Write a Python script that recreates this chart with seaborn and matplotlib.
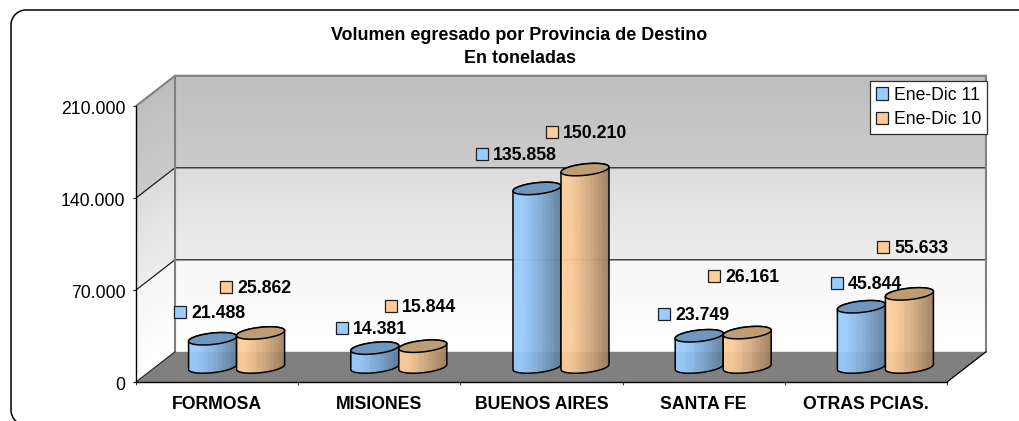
import numpy as np
import pandas as pd
import seaborn as sns
import matplotlib
matplotlib.use("Agg")
import matplotlib.pyplot as plt
from matplotlib.collections import PolyCollection
from matplotlib.colors import to_rgb
from matplotlib.lines import Line2D
from matplotlib.patches import Patch, Polygon
from matplotlib.transforms import Affine2D, ScaledTranslation, offset_copy

# ---- data ----
provincias = ["FORMOSA", "MISIONES", "BUENOS AIRES", "SANTA FE", "OTRAS PCIAS."]
periodos = ["Ene-Dic 11", "Ene-Dic 10"]
ene_dic_11 = [21488, 14381, 135858, 23749, 45844]
ene_dic_10 = [25862, 15844, 150210, 26161, 55633]
y_ticks = [0, 70000, 140000, 210000]
y_tick_labels = ["0", "70.000", "140.000", "210.000"]
titulo = "Volumen egresado por Provincia de Destino\nEn toneladas"

# ---- styles / layout (pixels of the 1019x421 image) ----
W, H = 1019, 421
AX_L, AX_R, AX_T, AX_B = 136, 947, 106, 382
PX_PER_CAT = (AX_R - AX_L) / 5
PX_PER_VAL = (AX_B - AX_T) / 210000
DX = 39 / PX_PER_CAT          # depth of the 3-D box in category units
DY = 30.2 / PX_PER_VAL        # depth of the 3-D box in value units
COLORES = {"Ene-Dic 11": "#99CCFF", "Ene-Dic 10": "#FFCC99"}
TAPAS = {"Ene-Dic 11": "#6E96BE", "Ene-Dic 10": "#C09C74"}
# offset of each value-label square from the top centre of its cylinder, px
OFFSETS = {
    "Ene-Dic 11": [(-32.6, 26.8), (-32.8, 20), (-55, 34.5), (-35.2, 21.8), (-24.4, 23.8)],
    "Ene-Dic 10": [(-34.6, 46), (-31.8, 40), (-33, 37.6), (-33.2, 56.6), (-26.4, 46.9)],
}
BANDAS = [("#F6F6F6", "#FFFFFF"), ("#DCDCDC", "#EDEDED"), ("#BEBEBE", "#CBCBCB")]

sns.set_theme(style="white")
plt.rcParams["font.family"] = ["Liberation Sans", "DejaVu Sans"]
FS = 12.7

fig = plt.figure(figsize=(W / 100, H / 100), dpi=100, facecolor="white")
ax = fig.add_axes([AX_L / W, 1 - AX_B / H, (AX_R - AX_L) / W, (AX_B - AX_T) / H])
ax.patch.set_visible(False)

df = pd.DataFrame({
    "provincia": provincias * 2,
    "periodo": [periodos[0]] * 5 + [periodos[1]] * 5,
    "volumen": ene_dic_11 + ene_dic_10,
})
sns.barplot(data=df, x="provincia", y="volumen", hue="periodo", order=provincias,
            hue_order=periodos, palette=COLORES, saturation=1, width=0.592,
            legend=False, ax=ax)
ax.set_xlim(-0.5, 4.5)
ax.set_ylim(0, 210000)
ax.set_xlabel("")
ax.set_ylabel("")

x0, x1 = -0.5, 4.5
# ---- walls: gradient bands between the gridlines ----
polys, cols = [], []
for k, (c_top, c_bottom) in enumerate(BANDAS):
    lo, hi = y_ticks[k], y_ticks[k + 1]
    c_bot, c_up = np.array(to_rgb(c_bottom)), np.array(to_rgb(c_top))
    levels = np.linspace(lo, hi, 60)
    for a, b, f in zip(levels[:-1], levels[1:], np.linspace(0, 1, 59)):
        col = c_bot + (c_up - c_bot) * f
        polys.append([(x0 + DX, a + DY), (x1 + DX, a + DY), (x1 + DX, b + DY), (x0 + DX, b + DY)])
        cols.append(col)
        polys.append([(x0, a), (x0 + DX, a + DY), (x0 + DX, b + DY), (x0, b)])
        cols.append(col)
walls = PolyCollection(polys, facecolors=cols, edgecolors="none", antialiased=False,
                       zorder=0.5, clip_on=False)
ax.add_collection(walls, autolim=False)

# floor
ax.add_patch(Polygon([(x0, 0), (x1, 0), (x1 + DX, DY), (x0 + DX, DY)], closed=True,
                     facecolor="#808080", edgecolor="none", zorder=0.6, clip_on=False))
# gridlines
for t in y_ticks[1:3]:
    ax.plot([x0, x0 + DX, x1 + DX], [t, t + DY, t + DY], color="#202020", lw=0.9,
            zorder=0.7, clip_on=False)
# box edges
ax.plot([x0, x0 + DX, x1 + DX, x1 + DX], [210000, 210000 + DY, 210000 + DY, DY],
        color="#808080", lw=1.5, zorder=0.7, clip_on=False, solid_joinstyle="miter")
ax.plot([x0 + DX, x0 + DX], [DY, 210000 + DY], color="#808080", lw=1.5, zorder=0.7, clip_on=False)
ax.plot([x0, x0 + DX], [0, DY], color="#202020", lw=0.8, zorder=0.75, clip_on=False)
ax.plot([x1, x1 + DX], [0, DY], color="#000000", lw=0.9, zorder=0.75, clip_on=False)

# ---- cylinders, drawn from the seaborn bars ----
perfil_x = np.array([0, 0.18, 0.55, 1.0])
perfil_v = np.array([1.0, 1.0, 0.84, 0.60])
t = np.linspace(0, 1, 48)
estrias = 1 + 0.012 * np.sign(np.sin(t * 70)) * (t > 0.35)
perfil = np.interp(t, perfil_x, perfil_v) * estrias
B = 5.7 / PX_PER_VAL
K = 2.5 / PX_PER_VAL

def arco(cx, a, cy, t0, t1, n=60):
    th = np.linspace(t0, t1, n)
    return np.column_stack([cx + a * np.cos(th), cy + B * np.sin(th) + K * np.cos(th)])

for serie, cont in zip(periodos, ax.containers):
    base_rgb = np.array(to_rgb(COLORES[serie]))
    for i, bar in enumerate(cont):
        bar.set_visible(False)
        w = bar.get_width()
        cx = bar.get_x() + w / 2 + DX / 2
        y0 = 15 / PX_PER_VAL
        y1 = bar.get_height() + y0
        a = w / 2
        z = 3 + i + (0.5 if serie == periodos[1] else 0)
        cuerpo = np.vstack([arco(cx, a, y0, np.pi, 2 * np.pi), arco(cx, a, y1, 0, np.pi)])
        grad = (perfil[:, None] * base_rgb)[None, :, :]
        im = ax.imshow(grad, extent=[cx - a, cx + a, y0 - 2 * B, y1 + 2 * B], aspect="auto",
                       origin="lower", zorder=z, alpha=0.93, interpolation="bilinear")
        clip = Polygon(cuerpo, closed=True, transform=ax.transData)
        im.set_clip_path(clip)
        im.set_clip_box(fig.bbox)
        ax.add_patch(Polygon(cuerpo, closed=True, fill=False, edgecolor="black", lw=1.1,
                             zorder=z + 0.1, clip_on=False))
        ax.add_patch(Polygon(arco(cx, a, y1, 0, 2 * np.pi), closed=True, facecolor=TAPAS[serie],
                             edgecolor="black", lw=1.1, zorder=z + 0.2, clip_on=False))
        # value label: key square + bold number
        dx, dy = OFFSETS[serie][i]
        tr = offset_copy(ax.transData, fig=fig, x=dx, y=dy, units="dots")
        ax.plot([cx], [y1], marker="s", ms=8.2, mfc=COLORES[serie], mec="#202020", mew=0.9,
                transform=tr, clip_on=False, zorder=12, ls="none")
        etiqueta = f"{int(bar.get_height()):,}".replace(",", ".")
        ax.annotate(etiqueta, xy=(cx, y1), xytext=(dx + 11, dy - 1.5), textcoords="offset pixels",
                    ha="left", va="center", fontsize=FS, fontweight="bold", color="black",
                    annotation_clip=False, zorder=12)

ax.set_xlim(-0.5, 4.5)
ax.set_ylim(0, 210000)
ax.set_aspect("auto")

# ---- axes ----
for s in ("top", "right"):
    ax.spines[s].set_visible(False)
for s in ("left", "bottom"):
    ax.spines[s].set_visible(True)
    ax.spines[s].set_color("black")
    ax.spines[s].set_linewidth(1.0)
ax.set_yticks(y_ticks, labels=y_tick_labels)
ax.tick_params(axis="y", length=2.4, width=0.8, color="black", pad=4.5, labelsize=FS,
               labelcolor="black", left=True)
down = ScaledTranslation(-0.01, -0.02, fig.dpi_scale_trans)
for lab in ax.get_yticklabels():
    lab.set_transform(lab.get_transform() + down)
ax.set_xticks(np.arange(-0.5, 5, 1), labels=[""] * 6)
ax.set_xticks(np.arange(5), labels=provincias, minor=True)
ax.tick_params(axis="x", which="major", length=2.4, width=0.8, color="#404040", bottom=True)
ax.tick_params(axis="x", which="minor", length=0, pad=10, labelsize=FS, labelcolor="black")
for lab in ax.get_xticklabels(minor=True):
    lab.set_fontweight("bold")

# ---- legend ----
handles = [Patch(facecolor=COLORES[p], edgecolor="#202020", linewidth=0.9) for p in periodos]
leg = ax.legend(handles, periodos, loc="upper right",
                bbox_to_anchor=(987 / W, 1 - 81 / H), bbox_transform=fig.transFigure,
                borderaxespad=0, fontsize=FS, frameon=True, fancybox=False, framealpha=1,
                edgecolor="#303030", handlelength=0.68, handleheight=0.68, handletextpad=0.35,
                labelspacing=0.42, borderpad=0.32, labelcolor="black")
leg.get_frame().set_linewidth(0.9)
leg.set_zorder(20)

# ---- outer frame (runs off the right and bottom of the image) and title ----
px = Affine2D().scale(1 / W, -1 / H).translate(0, 1) + fig.transFigure
th = np.linspace(np.pi, 1.5 * np.pi, 20)
R = 15
esq_sup = np.column_stack([11 + R + R * np.cos(th), 10 + R + R * np.sin(th)])
esq_inf = np.column_stack([11 + R + R * np.cos(th[::-1]), 425 - R - R * np.sin(th[::-1])])
marco = np.vstack([[(W + 5, 10)], esq_sup[::-1], esq_inf[::-1]])
fig.add_artist(Line2D(marco[:, 0], marco[:, 1], transform=px, color="black", lw=1.1))
fig.text(519.5 / W, 1 - 47 / H, titulo, ha="center", va="center", fontsize=12.9,
         fontweight="bold", color="black", linespacing=1.44)

fig.savefig("out.png", dpi=100, facecolor="white")
